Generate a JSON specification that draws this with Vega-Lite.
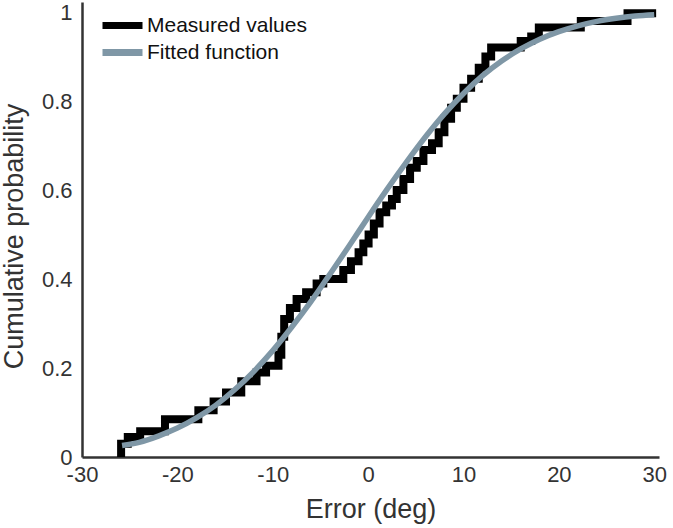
{
  "$schema": "https://vega.github.io/schema/vega-lite/v6.json",
  "autosize": "none",
  "width": 577,
  "height": 455,
  "padding": {"left": 82, "top": 2, "right": 14, "bottom": 71},
  "background": "white",
  "config": {
    "view": {"stroke": null},
    "font": "Liberation Sans",
    "axis": {
      "domainColor": "#333333",
      "domainWidth": 2.5,
      "ticks": false,
      "grid": false,
      "labelFlush": false,
      "labelFont": "Liberation Sans",
      "labelFontSize": 22,
      "labelColor": "#333333",
      "titleFont": "Liberation Sans",
      "titleFontSize": 27,
      "titleFontWeight": "normal",
      "titleColor": "#333333"
    }
  },
  "datasets": {
    "measured": [
      {"error": -25.9, "p": 0, "series": "Measured values"},
      {"error": -25.9, "p": 0.03, "series": "Measured values"},
      {"error": -25.2, "p": 0.045, "series": "Measured values"},
      {"error": -23.9, "p": 0.058, "series": "Measured values"},
      {"error": -21.3, "p": 0.085, "series": "Measured values"},
      {"error": -17.8, "p": 0.105, "series": "Measured values"},
      {"error": -16.2, "p": 0.125, "series": "Measured values"},
      {"error": -14.9, "p": 0.145, "series": "Measured values"},
      {"error": -13.3, "p": 0.17, "series": "Measured values"},
      {"error": -11.7, "p": 0.19, "series": "Measured values"},
      {"error": -10.7, "p": 0.205, "series": "Measured values"},
      {"error": -9.4, "p": 0.23, "series": "Measured values"},
      {"error": -9.1, "p": 0.27, "series": "Measured values"},
      {"error": -8.8, "p": 0.31, "series": "Measured values"},
      {"error": -8.2, "p": 0.335, "series": "Measured values"},
      {"error": -7.5, "p": 0.355, "series": "Measured values"},
      {"error": -6.5, "p": 0.37, "series": "Measured values"},
      {"error": -5.4, "p": 0.39, "series": "Measured values"},
      {"error": -4.7, "p": 0.4, "series": "Measured values"},
      {"error": -2.6, "p": 0.42, "series": "Measured values"},
      {"error": -1.8, "p": 0.44, "series": "Measured values"},
      {"error": -1.0, "p": 0.46, "series": "Measured values"},
      {"error": -0.5, "p": 0.48, "series": "Measured values"},
      {"error": 0.05, "p": 0.5, "series": "Measured values"},
      {"error": 0.6, "p": 0.525, "series": "Measured values"},
      {"error": 1.2, "p": 0.55, "series": "Measured values"},
      {"error": 1.9, "p": 0.565, "series": "Measured values"},
      {"error": 2.5, "p": 0.58, "series": "Measured values"},
      {"error": 3.0, "p": 0.6, "series": "Measured values"},
      {"error": 3.7, "p": 0.625, "series": "Measured values"},
      {"error": 4.4, "p": 0.65, "series": "Measured values"},
      {"error": 5.1, "p": 0.665, "series": "Measured values"},
      {"error": 5.8, "p": 0.69, "series": "Measured values"},
      {"error": 6.7, "p": 0.705, "series": "Measured values"},
      {"error": 7.4, "p": 0.73, "series": "Measured values"},
      {"error": 8.0, "p": 0.76, "series": "Measured values"},
      {"error": 8.7, "p": 0.785, "series": "Measured values"},
      {"error": 9.3, "p": 0.805, "series": "Measured values"},
      {"error": 10.0, "p": 0.83, "series": "Measured values"},
      {"error": 10.8, "p": 0.85, "series": "Measured values"},
      {"error": 11.6, "p": 0.875, "series": "Measured values"},
      {"error": 12.3, "p": 0.9, "series": "Measured values"},
      {"error": 12.9, "p": 0.92, "series": "Measured values"},
      {"error": 16.0, "p": 0.935, "series": "Measured values"},
      {"error": 17.1, "p": 0.945, "series": "Measured values"},
      {"error": 17.9, "p": 0.965, "series": "Measured values"},
      {"error": 22.3, "p": 0.98, "series": "Measured values"},
      {"error": 27.2, "p": 0.997, "series": "Measured values"},
      {"error": 30.2, "p": 0.997, "series": "Measured values"}
    ],
    "fitted": [
      {"error": -25.8, "p": 0.026, "series": "Fitted function"},
      {"error": -24, "p": 0.033, "series": "Fitted function"},
      {"error": -22, "p": 0.047, "series": "Fitted function"},
      {"error": -20, "p": 0.065, "series": "Fitted function"},
      {"error": -18, "p": 0.088, "series": "Fitted function"},
      {"error": -16, "p": 0.116, "series": "Fitted function"},
      {"error": -14, "p": 0.151, "series": "Fitted function"},
      {"error": -12, "p": 0.192, "series": "Fitted function"},
      {"error": -10, "p": 0.239, "series": "Fitted function"},
      {"error": -8, "p": 0.292, "series": "Fitted function"},
      {"error": -6, "p": 0.349, "series": "Fitted function"},
      {"error": -4, "p": 0.411, "series": "Fitted function"},
      {"error": -2, "p": 0.474, "series": "Fitted function"},
      {"error": 0, "p": 0.539, "series": "Fitted function"},
      {"error": 2, "p": 0.602, "series": "Fitted function"},
      {"error": 4, "p": 0.662, "series": "Fitted function"},
      {"error": 6, "p": 0.719, "series": "Fitted function"},
      {"error": 8, "p": 0.771, "series": "Fitted function"},
      {"error": 10, "p": 0.817, "series": "Fitted function"},
      {"error": 12, "p": 0.857, "series": "Fitted function"},
      {"error": 14, "p": 0.89, "series": "Fitted function"},
      {"error": 16, "p": 0.917, "series": "Fitted function"},
      {"error": 18, "p": 0.939, "series": "Fitted function"},
      {"error": 20, "p": 0.956, "series": "Fitted function"},
      {"error": 22, "p": 0.969, "series": "Fitted function"},
      {"error": 24, "p": 0.979, "series": "Fitted function"},
      {"error": 26, "p": 0.986, "series": "Fitted function"},
      {"error": 28, "p": 0.991, "series": "Fitted function"},
      {"error": 30, "p": 0.994, "series": "Fitted function"}
    ]
  },
  "encoding": {
    "x": {
      "field": "error",
      "type": "quantitative",
      "title": "Error (deg)",
      "scale": {"domain": [-30, 30.5], "nice": false, "zero": false},
      "axis": {
        "values": [-30, -20, -10, 0, 10, 20, 30],
        "labelExpr": "'' + datum.value",
        "labelPadding": 7,
        "titlePadding": 11
      }
    },
    "y": {
      "field": "p",
      "type": "quantitative",
      "title": "Cumulative probability",
      "scale": {"domain": [0, 1.0225], "nice": false},
      "axis": {
        "values": [0, 0.2, 0.4, 0.6, 0.8, 1],
        "labelExpr": "'' + datum.value",
        "labelPadding": 10,
        "titlePadding": 13,
        "titleY": 234
      }
    },
    "color": {
      "field": "series",
      "type": "nominal",
      "scale": {"domain": ["Measured values", "Fitted function"], "range": ["#000000", "#7f97a6"]},
      "legend": {
        "title": null,
        "orient": "none",
        "legendX": 30,
        "legendY": 13,
        "padding": 0,
        "symbolType": "M-4,0H4",
        "symbolSize": 100,
        "symbolStrokeWidth": 7,
        "symbolFillColor": "transparent",
        "labelFont": "Liberation Sans",
        "labelFontSize": 21,
        "labelColor": "#111111",
        "labelOffset": 14,
        "rowPadding": -2
      }
    }
  },
  "layer": [
    {
      "data": {"name": "measured"},
      "mark": {"type": "line", "interpolate": "step-after", "strokeWidth": 8, "strokeJoin": "miter", "clip": false}
    },
    {
      "data": {"name": "fitted"},
      "mark": {"type": "line", "interpolate": "monotone", "strokeWidth": 5.5, "strokeCap": "butt"}
    }
  ]
}
